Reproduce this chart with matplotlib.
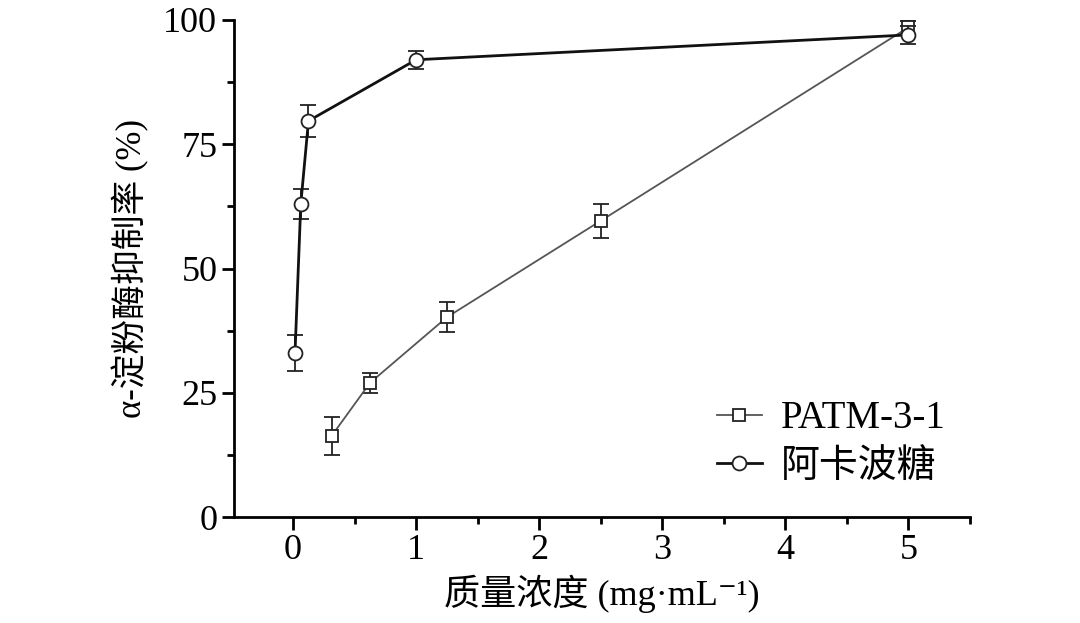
import matplotlib
matplotlib.use("Agg")
import matplotlib.pyplot as plt
from matplotlib.ticker import MultipleLocator

plt.rcParams['font.family'] = ['Liberation Serif', 'Noto Sans CJK SC', 'DejaVu Serif']

# Data
patm_x = [0.3125, 0.625, 1.25, 2.5, 5.0]
patm_y = [16.3, 27.0, 40.2, 59.6, 98.5]
patm_err = [3.8, 2.0, 3.0, 3.4, 1.3]

acar_x = [0.0156, 0.0625, 0.125, 1.0, 5.0]
acar_y = [33.0, 63.0, 79.7, 92.0, 97.0]
acar_err = [3.6, 3.0, 3.2, 1.8, 1.8]

labels = ['PATM-3-1', '阿卡波糖']
xticks = [0, 1, 2, 3, 4, 5]
yticks = [0, 25, 50, 75, 100]

fig = plt.figure(figsize=(10.8, 6.23), dpi=100)
ax = fig.add_axes([0.2167, 0.1701, 0.6813, 0.7978])

c1 = ax.errorbar(patm_x, patm_y, yerr=patm_err, color='#555555', lw=1.3,
                 marker='s', ms=9, mfc='white', mec='#222222', mew=1.3,
                 ecolor='#222222', elinewidth=1.3, capsize=6, capthick=1.3,
                 zorder=3)
c2 = ax.errorbar(acar_x, acar_y, yerr=acar_err, color='#111111', lw=2.0,
                 marker='o', ms=10, mfc='white', mec='#222222', mew=1.3,
                 ecolor='#222222', elinewidth=1.3, capsize=6, capthick=1.3,
                 zorder=4)

ax.set_xlim(-0.48, 5.5)
ax.set_ylim(0, 100)
ax.set_xticks(xticks)
ax.set_yticks(yticks)
ax.xaxis.set_minor_locator(MultipleLocator(0.5))
ax.yaxis.set_minor_locator(MultipleLocator(12.5))
for s in ['top', 'right']:
    ax.spines[s].set_visible(False)
for s in ['left', 'bottom']:
    ax.spines[s].set_linewidth(2.0)
ax.tick_params(which='major', direction='out', length=9, width=2.0,
               labelsize=26, pad=3)
ax.tick_params(which='minor', direction='out', length=5, width=2.0)

ax.set_xlabel('质量浓度 (mg·mL⁻¹)', fontsize=26, labelpad=6)
ax.set_ylabel('α-淀粉酶抑制率 (%)', fontsize=25, labelpad=10)

ax.legend([c1[0], c2[0]], labels, loc='lower right',
          bbox_to_anchor=(1.015, -0.008), frameon=False,
          fontsize=28, handlelength=1.15, handletextpad=0.5,
          labelspacing=0.3)

fig.savefig('out.png', dpi=100)
